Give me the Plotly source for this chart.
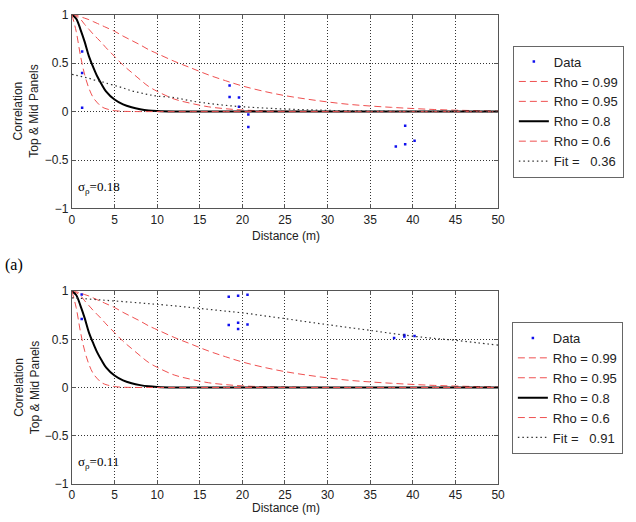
import plotly.graph_objects as go

# ---------------- data ----------------
dist_grid = [0, 0.5, 1, 1.5, 2, 2.5, 3, 3.5, 4, 5, 6, 7, 8, 9, 10, 12, 14, 16, 18, 20,
             22.5, 25, 27.5, 30, 32.5, 35, 37.5, 40, 42.5, 45, 47.5, 50]

rho_099 = [1, 0.995, 0.98, 0.965, 0.95, 0.93, 0.91, 0.89, 0.87, 0.83, 0.78, 0.735, 0.69, 0.64,
           0.6, 0.52, 0.45, 0.38, 0.32, 0.265, 0.21, 0.165, 0.13, 0.1, 0.075, 0.058, 0.044,
           0.032, 0.022, 0.015, 0.01, 0.006]
rho_095 = [1, 0.985, 0.955, 0.9, 0.85, 0.8, 0.755, 0.71, 0.66, 0.57, 0.48, 0.405, 0.33, 0.26,
           0.21, 0.13, 0.085, 0.05, 0.03, 0.017, 0.008, 0.004, 0.002, 0, 0, 0, 0, 0, 0, 0, 0, 0]
rho_080 = [1, 0.96, 0.85, 0.72, 0.57, 0.46, 0.36, 0.28, 0.21, 0.125, 0.075, 0.045, 0.025, 0.012,
           0.006, 0.001, 0, 0, 0, 0, 0, 0, 0, 0, 0, 0, 0, 0, 0, 0, 0, 0]
rho_060 = [1, 0.83, 0.58, 0.38, 0.24, 0.145, 0.09, 0.05, 0.03, 0.01, 0.003, 0.001, 0, 0,
           0, 0, 0, 0, 0, 0, 0, 0, 0, 0, 0, 0, 0, 0, 0, 0, 0, 0]

fit_top = [0.385, 0.375, 0.365, 0.355, 0.345, 0.33, 0.32, 0.31, 0.295, 0.27, 0.245, 0.215, 0.195,
           0.175, 0.16, 0.145, 0.11, 0.085, 0.065, 0.05, 0.037, 0.027, 0.019, 0.013, 0.009,
           0.006, 0.004, 0.003, 0.002, 0.001, 0.001, 0]
fit_bot = [0.93, 0.928, 0.925, 0.922, 0.918, 0.915, 0.912, 0.908, 0.905, 0.898, 0.892, 0.885,
           0.878, 0.87, 0.863, 0.848, 0.83, 0.812, 0.793, 0.775, 0.745, 0.715, 0.683, 0.652,
           0.622, 0.593, 0.562, 0.533, 0.51, 0.49, 0.465, 0.44]

data_top_x = [1.2, 1.2, 1.2, 18.5, 18.5, 19.6, 19.6, 20.7, 20.7, 38.0, 39.1, 39.1, 40.2]
data_top_y = [0.62, 0.40, 0.04, 0.27, 0.15, 0.145, 0.05, -0.03, -0.16, -0.36, -0.147, -0.337, -0.30]

data_bot_x = [1.15, 1.15, 18.4, 19.5, 20.6, 18.4, 19.5, 19.5, 20.6, 37.8, 39.0, 39.0, 40.2]
data_bot_y = [0.965, 0.71, 0.943, 0.953, 0.963, 0.65, 0.672, 0.608, 0.655, 0.515, 0.545, 0.53, 0.535]

fit_top_label = "0.36"
fit_bot_label = "0.91"
sigma_top = "0.18"
sigma_bot = "0.11"

x_ticks = [0, 5, 10, 15, 20, 25, 30, 35, 40, 45, 50]
y_ticks = [-1, -0.5, 0, 0.5, 1]

# ---------------- figure ----------------
W, H = 636, 522
RED = "#ef5050"
FONT = "Liberation Sans"
SERIF = "Liberation Serif"

fig = go.Figure()

def add_panel(xa, ya, leg, dx, dy, fit, fit_label):
    fig.add_trace(go.Scatter(x=dx, y=dy, mode="markers", name="Data",
                             marker=dict(color="#1010ee", size=2.5, symbol="square"),
                             xaxis=xa, yaxis=ya, legend=leg))
    specs = [("Rho = 0.99", rho_099, RED, "7px,4px", 1),
             ("Rho = 0.95", rho_095, RED, "7px,4px", 1),
             ("Rho = 0.8", rho_080, "black", "solid", 2),
             ("Rho = 0.6", rho_060, RED, "7px,4px", 1)]
    for name, vals, col, dash, w in specs:
        fig.add_trace(go.Scatter(x=dist_grid, y=vals, mode="lines", name=name,
                                 line=dict(color=col, dash=dash, width=w, shape="spline"),
                                 xaxis=xa, yaxis=ya, legend=leg))
    fig.add_trace(go.Scatter(x=dist_grid, y=fit, mode="lines",
                             name="Fit =\u00a0\u00a0\u00a0" + fit_label,
                             line=dict(color="#333333", dash="1.5px,3px", width=1.2, shape="spline"),
                             xaxis=xa, yaxis=ya, legend=leg))

add_panel("x", "y", "legend", data_top_x, data_top_y, fit_top, fit_top_label)
add_panel("x2", "y2", "legend2", data_bot_x, data_bot_y, fit_bot, fit_bot_label)

xdom = [70 / W, 503 / W]
ydom_top = [1 - 207 / H, 1 - 8 / H]
ydom_bot = [1 - 490 / H, 1 - 292 / H]

axis_common = dict(showgrid=True, gridcolor="#333333", griddash="1px,2px", gridwidth=1,
                   showline=True, linecolor="#555555", linewidth=1, mirror="allticks",
                   ticks="inside", ticklen=4, tickcolor="#555555", zeroline=False,
                   layer="below traces",
                   tickfont=dict(family=FONT, size=12, color="#222222"))

fig.update_layout(
    width=W, height=H, margin=dict(l=0, r=0, t=0, b=0),
    paper_bgcolor="white", plot_bgcolor="white",
    font=dict(family=FONT, size=12, color="#222222"),
    xaxis=dict(domain=xdom, range=[0, 50], tickvals=x_ticks, anchor="y", **axis_common),
    yaxis=dict(domain=ydom_top, range=[-1, 1], tickvals=y_ticks, anchor="x", **axis_common),
    xaxis2=dict(domain=xdom, range=[0, 50], tickvals=x_ticks, anchor="y2", **axis_common),
    yaxis2=dict(domain=ydom_bot, range=[-1, 1], tickvals=y_ticks, anchor="x2", **axis_common),
    legend=dict(x=518 / W, y=1 - 107.5 / H, xanchor="left", yanchor="middle",
                bordercolor="#666666", borderwidth=1, bgcolor="white",
                font=dict(family=FONT, size=13, color="#222222"), tracegroupgap=0),
    legend2=dict(x=517 / W, y=1 - 391.5 / H, xanchor="left", yanchor="middle",
                 bordercolor="#666666", borderwidth=1, bgcolor="white",
                 font=dict(family=FONT, size=13, color="#222222"), tracegroupgap=0),
    showlegend=True,
)

ann = []
for (ycen, xtitle_y, xr, yr, sig) in [((7 + 207) / 2, 235, "x", "y", sigma_top),
                                     ((292 + 490) / 2, 515, "x2", "y2", sigma_bot)]:
    ann.append(dict(text="Correlation<br>Top &amp; Mid Panels", xref="paper", yref="paper",
                    x=24 / W, y=1 - ycen / H, xanchor="center", yanchor="middle",
                    textangle=-90, showarrow=False, font=dict(family=FONT, size=12, color="#222222")))
    ann.append(dict(text="Distance (m)", xref="paper", yref="paper",
                    x=288 / W, y=1 - xtitle_y / H, xanchor="center", yanchor="middle",
                    showarrow=False, font=dict(family=FONT, size=12, color="#222222")))
    ann.append(dict(text="σ<sub>ρ</sub>=" + sig, xref=xr, yref=yr, x=0.5, y=-0.78,
                    xanchor="left", yanchor="middle", showarrow=False,
                    font=dict(family=SERIF, size=13, color="black")))
ann.append(dict(text="(a)", xref="paper", yref="paper", x=0, y=1 - 265 / H,
                xanchor="left", yanchor="middle", showarrow=False,
                font=dict(family=SERIF, size=16, color="black")))
fig.update_layout(annotations=ann)

fig.write_html("out.html")
